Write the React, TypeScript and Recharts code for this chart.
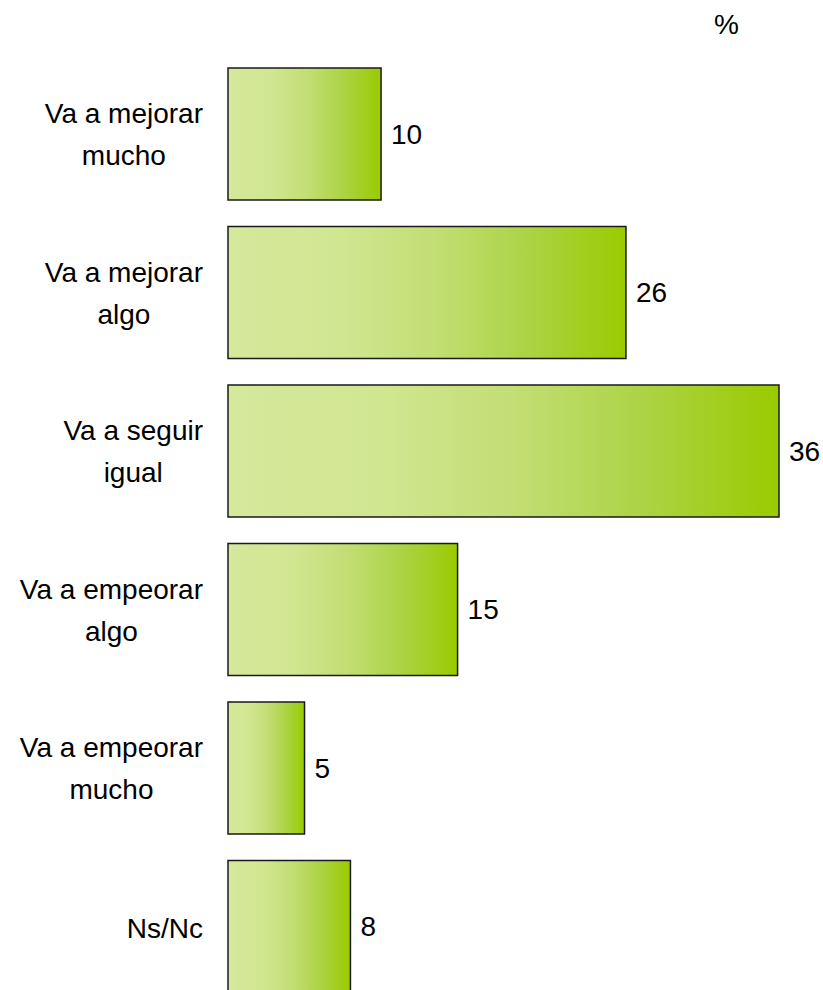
import { BarChart, Bar, XAxis, YAxis, LabelList } from "recharts";

const categories = [
  "Va a mejorar\nmucho",
  "Va a mejorar\nalgo",
  "Va a seguir\nigual",
  "Va a empeorar\nalgo",
  "Va a empeorar\nmucho",
  "Ns/Nc",
];
const values = [10, 26, 36, 15, 5, 8];
const unitLabel = "%";

const FONT = "'Liberation Sans', Arial, sans-serif";
const FONT_SIZE = 28;

const data = categories.map((name, i) => ({ name, value: values[i] }));

let measureCtx: CanvasRenderingContext2D | null = null;
function textWidth(s: string) {
  if (!measureCtx) {
    measureCtx = document.createElement("canvas").getContext("2d");
  }
  if (!measureCtx) return s.length * 14;
  measureCtx.font = `${FONT_SIZE}px ${FONT}`;
  return measureCtx.measureText(s).width;
}

// category label: lines centred on each other, block right-aligned next to the bars
function CategoryTick(props: any) {
  const { y, payload } = props;
  const lines: string[] = String(payload.value).split("\n");
  const right = 203;
  const maxW = Math.max(...lines.map(textWidth));
  const cx = right - maxW / 2;
  const first = lines.length > 1 ? y - 11 : y + 11;
  return (
    <text textAnchor="middle" fontFamily={FONT} fontSize={FONT_SIZE} fill="#000">
      {lines.map((line, i) => (
        <tspan key={i} x={cx} y={first + i * 42}>
          {line}
        </tspan>
      ))}
    </text>
  );
}

export default function App() {
  return (
    <div style={{ position: "absolute", left: 0, top: 0, width: 823, height: 990, overflow: "hidden", background: "#fff" }}>
      <div
        style={{
          position: "absolute",
          left: 714,
          top: 10,
          fontFamily: FONT,
          fontSize: FONT_SIZE,
          lineHeight: "30px",
          color: "#000",
        }}
      >
        {unitLabel}
      </div>
      <BarChart
        width={823}
        height={1010}
        data={data}
        layout="vertical"
        margin={{ top: 55, right: 44, bottom: 4, left: 0 }}
      >
        <defs>
          <linearGradient id="greenFade" x1="0" y1="0" x2="1" y2="0">
            <stop offset="0%" stopColor="#d6e89c" />
            <stop offset="28%" stopColor="#d1e691" />
            <stop offset="52%" stopColor="#c2de74" />
            <stop offset="76%" stopColor="#abd343" />
            <stop offset="100%" stopColor="#99cb00" />
          </linearGradient>
        </defs>
        <XAxis type="number" domain={[0, 36]} hide />
        <YAxis
          type="category"
          dataKey="name"
          width={228}
          axisLine={false}
          tickLine={false}
          tick={<CategoryTick />}
          interval={0}
        />
        <Bar
          dataKey="value"
          barSize={132}
          fill="url(#greenFade)"
          stroke="#1a1a1a"
          strokeWidth={1.5}
          isAnimationActive={false}
        >
          <LabelList
            dataKey="value"
            position="right"
            offset={10}
            fontFamily={FONT}
            fontSize={FONT_SIZE}
            fill="#000"
          />
        </Bar>
      </BarChart>
    </div>
  );
}
